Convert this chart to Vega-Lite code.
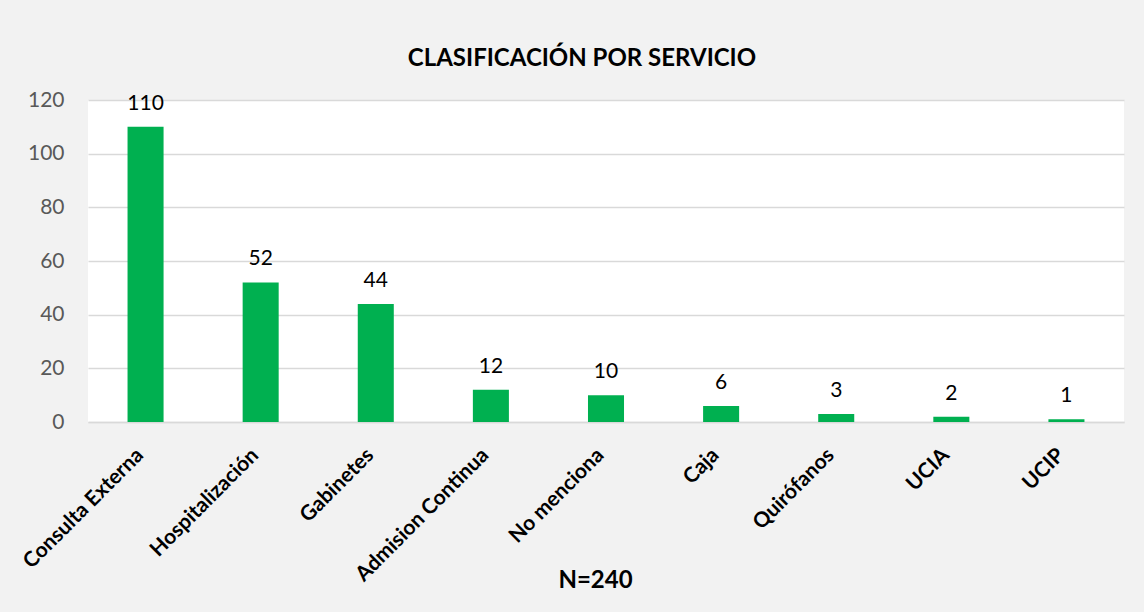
{
  "$schema": "https://vega.github.io/schema/vega-lite/v6.json",
  "autosize": {"type": "none"},
  "width": 1036,
  "height": 322,
  "padding": {"left": 88, "top": 100, "right": 20, "bottom": 190},
  "background": "#F2F2F2",
  "title": {
    "text": "CLASIFICACIÓN POR SERVICIO",
    "font": "Lato",
    "fontSize": 24,
    "fontWeight": "bold",
    "color": "#000000",
    "frame": "group",
    "anchor": "middle",
    "baseline": "alphabetic",
    "offset": -1,
    "dx": -24
  },
  "data": {
    "values": [
      {"servicio": "Consulta Externa", "n": 110},
      {"servicio": "Hospitalización", "n": 52},
      {"servicio": "Gabinetes", "n": 44},
      {"servicio": "Admision Continua", "n": 12},
      {"servicio": "No menciona", "n": 10},
      {"servicio": "Caja", "n": 6},
      {"servicio": "Quirófanos", "n": 3},
      {"servicio": "UCIA", "n": 2},
      {"servicio": "UCIP", "n": 1}
    ]
  },
  "encoding": {
    "x": {
      "field": "servicio",
      "type": "nominal",
      "sort": null,
      "scale": {"paddingInner": 0.687, "paddingOuter": 0.3435},
      "axis": {
        "title": "N=240",
        "titleFont": "Lato",
        "titleFontSize": 24,
        "titleFontWeight": "bold",
        "titleColor": "#000000",
        "titleX": 507,
        "titleY": 165,
        "titleAlign": "center",
        "titleBaseline": "alphabetic",
        "labelAngle": -45,
        "labelFont": "Lato",
        "labelFontSize": 21,
        "labelFontWeight": "bold",
        "labelColor": "#000000",
        "labelPadding": 22,
        "labelOffset": -13,
        "ticks": false,
        "domainColor": "#D9D9D9",
        "domainWidth": 1.5,
        "grid": false
      }
    },
    "y": {
      "field": "n",
      "type": "quantitative",
      "scale": {"domain": [0, 120]},
      "axis": {
        "title": null,
        "values": [0, 20, 40, 60, 80, 100, 120],
        "labelFont": "Lato",
        "labelFontSize": 21,
        "labelColor": "#595959",
        "labelPadding": 24,
        "ticks": false,
        "domain": false,
        "gridColor": "#D9D9D9",
        "gridWidth": 1.5
      }
    }
  },
  "layer": [
    {"mark": {"type": "bar", "color": "#00B050"}},
    {
      "mark": {"type": "text", "font": "Lato", "fontSize": 21, "color": "#000000", "baseline": "alphabetic", "dy": -17},
      "encoding": {"text": {"field": "n", "type": "quantitative"}}
    }
  ],
  "config": {"view": {"stroke": null, "fill": "#FFFFFF"}}
}
